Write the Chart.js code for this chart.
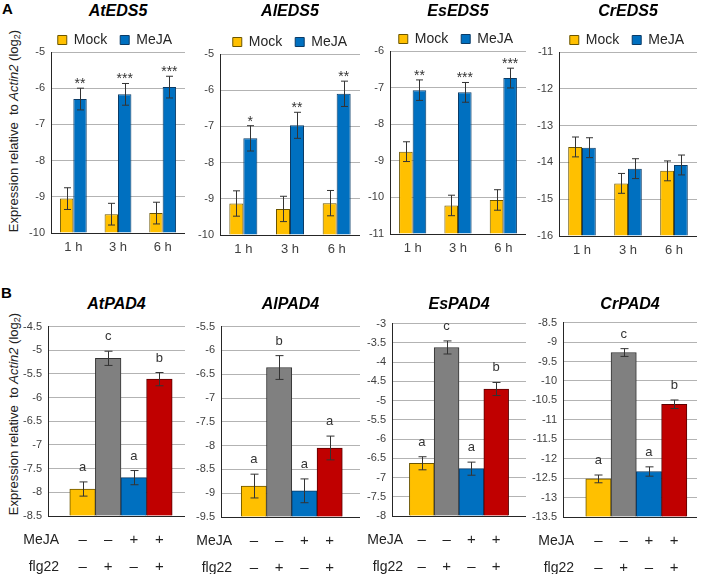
<!DOCTYPE html>
<html>
<head>
<meta charset="utf-8">
<script src="https://cdn.jsdelivr.net/npm/chart.js@4.4.0/dist/chart.umd.min.js"></script>
<style>
html,body{margin:0;padding:0;background:#fff;overflow:hidden;}
body{width:709px;height:574px;position:relative;font-family:"Liberation Sans",Arial,sans-serif;}
.cv{position:absolute;}
.ttl{position:absolute;font-weight:bold;font-style:italic;font-size:16px;line-height:18px;color:#000;transform:translateX(-50%);white-space:nowrap;}
.tag{position:absolute;font-weight:bold;font-size:15px;line-height:16px;color:#000;}
.ylab{position:absolute;font-size:13px;line-height:15px;color:#222;white-space:nowrap;transform:translate(-50%,-50%) rotate(-90deg);}
.ylab sub{font-size:9px;vertical-align:-2px;line-height:0;}
</style>
</head>
<body>
<div class="tag" style="left:2px;top:1px;">A</div>
<div class="tag" style="left:1px;top:285px;">B</div>
<div class="ylab" style="left:13px;top:131px;">Expression relative&nbsp; to <i>Actin2</i> (log<sub>2</sub>)</div>
<div class="ylab" style="left:13px;top:414px;">Expression relative&nbsp; to <i>Actin2</i> (log<sub>2</sub>)</div>

<script>
/* ---------- data ---------- */
var timeLabels = ['1 h', '3 h', '6 h'];
var edsTitles = ['AtEDS5', 'AlEDS5', 'EsEDS5', 'CrEDS5'];
var edsMock    = [[-9.05, -9.48, -9.45], [-9.13, -9.28, -9.12], [-8.75, -10.22, -10.07], [-13.58, -14.57, -14.23]];
var edsMockErr = [[0.3, 0.3, 0.3], [0.35, 0.35, 0.35], [0.27, 0.28, 0.28], [0.27, 0.27, 0.27]];
var edsMeja    = [[-6.3, -6.17, -5.97], [-7.33, -6.97, -6.1], [-7.07, -7.13, -6.74], [-13.6, -14.17, -14.07]];
var edsMejaErr = [[0.3, 0.3, 0.3], [0.35, 0.36, 0.35], [0.28, 0.27, 0.27], [0.27, 0.27, 0.27]];
var edsStars   = [['**', '***', '***'], ['*', '**', '**'], ['**', '***', '***'], ['', '', '']];
var edsRange   = [[-10, -5], [-10, -5], [-11, -6], [-16, -11]];

var padTitles  = ['AtPAD4', 'AlPAD4', 'EsPAD4', 'CrPAD4'];
var rowNames   = ['MeJA', 'flg22'];
var mejaSigns  = ['\u2013', '\u2013', '+', '+'];
var flgSigns   = ['\u2013', '+', '\u2013', '+'];
var padValues  = [[-7.93, -5.17, -7.69, -5.61], [-8.85, -6.36, -8.95, -8.05], [-6.63, -3.62, -6.77, -4.7], [-12.52, -9.27, -12.33, -10.6]];
var padErr     = [[0.15, 0.15, 0.15, 0.14], [0.25, 0.25, 0.25, 0.25], [0.17, 0.17, 0.17, 0.17], [0.1, 0.1, 0.12, 0.11]];
var padLetters = [['a', 'c', 'a', 'b'], ['a', 'b', 'a', 'a'], ['a', 'c', 'a', 'b'], ['a', 'c', 'a', 'b']];
var padRange   = [[-8.5, -4.5], [-9.5, -5.5], [-8, -3], [-13.5, -8.5]];

/* ---------- layout: plot areas [left, top, right, bottom] ---------- */
var edsBoxes = [[51, 52, 185, 233], [220, 54, 360, 235], [390, 51, 526, 234], [559, 52, 697, 236]];
var padBoxes = [[48, 324, 185, 516], [221, 324, 360, 517], [392, 321, 526, 516], [563, 320, 697, 517]];
var padSide  = [[0.85, 0.5], [0.8, 0.7], [0.7, 0.7], [0.9, 0.4]];

var FONT = '"Liberation Sans", Arial, sans-serif';
var AXIS_W = 40, LEG_H = 32, EDS_XH = 35, PAD_XH = 68, PAD_TOP = 10;
var padColors  = ['#FFC000', '#808080', '#0070C0', '#C00000'];
var padBorders = ['#6b5500', '#333333', '#0b3b66', '#5c0000'];

/* ---------- plugins ---------- */
var errPlugin = {
  id: 'errBars',
  afterDatasetsDraw: function(chart, args, opts){
    var ctx = chart.ctx, y = chart.scales.y;
    ctx.save();
    chart.data.datasets.forEach(function(ds, di){
      var meta = chart.getDatasetMeta(di);
      var errs = opts.errs[di], marks = opts.marks[di];
      meta.data.forEach(function(bar, i){
        var v = ds.data[i];
        if(typeof v === 'object') v = v.y;
        var top = y.getPixelForValue(v + errs[i]), bot = y.getPixelForValue(v - errs[i]);
        var x = Math.round(bar.x) + 0.5, c = opts.cap / 2;
        ctx.strokeStyle = '#333'; ctx.lineWidth = 1;
        ctx.beginPath();
        ctx.moveTo(x, top); ctx.lineTo(x, bot);
        ctx.moveTo(x - c, top); ctx.lineTo(x + c, top);
        ctx.moveTo(x - c, bot); ctx.lineTo(x + c, bot);
        ctx.stroke();
        if(marks && marks[i]){
          ctx.fillStyle = '#333';
          ctx.font = opts.font;
          ctx.textAlign = 'center';
          ctx.textBaseline = 'alphabetic';
          ctx.fillText(marks[i], bar.x, top - opts.gap);
        }
      });
    });
    ctx.restore();
  }
};

var legendHeight = {
  id: 'legendHeight',
  beforeUpdate: function(chart){
    var lg = chart.legend;
    if(!lg || lg._fixed) return;
    var fit = lg.fit;
    lg.fit = function(){ fit.call(this); this.height = LEG_H; };
    lg._fixed = true;
  }
};

var rowPlugin = {
  id: 'rowNames',
  afterDraw: function(chart, args, opts){
    var xs = chart.scales.x, ctx = chart.ctx;
    var y0 = xs.top + opts.pad + opts.lineH / 2;
    ctx.save();
    ctx.font = opts.font;
    ctx.fillStyle = '#222';
    ctx.textAlign = 'right';
    ctx.textBaseline = 'middle';
    rowNames.forEach(function(n, k){ ctx.fillText(n, xs.left + opts.dx, y0 + k * opts.lineH); });
    ctx.restore();
  }
};

function makeCanvas(left, top, w, h){
  var c = document.createElement('canvas');
  c.className = 'cv';
  c.width = w; c.height = h;
  c.style.left = left + 'px'; c.style.top = top + 'px';
  c.style.width = w + 'px'; c.style.height = h + 'px';
  document.body.appendChild(c);
  return c;
}

function addTitle(text, cx, top){
  var d = document.createElement('div');
  d.className = 'ttl';
  d.textContent = text;
  d.style.left = cx + 'px'; d.style.top = top + 'px';
  document.body.appendChild(d);
}

function yAxis(r, step){
  return {
    min: r[0], max: r[1],
    border: {color: '#262626', width: 1},
    grid: {drawTicks: false, color: function(c){ return c.tick && c.tick.value === r[0] ? 'rgba(0,0,0,0)' : '#b3b3b3'; }},
    ticks: {
      stepSize: step, padding: 6, color: '#404040', font: {size: 11, family: FONT},
      callback: function(v){ return String(Math.round(v * 10) / 10); }
    },
    afterFit: function(s){ s.width = AXIS_W; }
  };
}

/* ---------- panel A ---------- */
edsTitles.forEach(function(t, k){
  var b = edsBoxes[k], r = edsRange[k];
  var left = b[0] - AXIS_W, top = b[1] - LEG_H;
  var cv = makeCanvas(left, top, b[2] - left, b[3] + EDS_XH - top);
  addTitle(t, (b[0] + b[2]) / 2, 2);
  new Chart(cv, {
    type: 'bar',
    data: {
      labels: timeLabels,
      datasets: [
        {label: 'Mock', data: edsMock[k], backgroundColor: '#FFC000', borderColor: '#6b5500', borderWidth: 1, base: r[0]},
        {label: 'MeJA', data: edsMeja[k], backgroundColor: '#0070C0', borderColor: '#0b3b66', borderWidth: 1, base: r[0]}
      ]
    },
    options: {
      responsive: false, animation: false,
      layout: {padding: 0},
      datasets: {bar: {categoryPercentage: 0.6, barPercentage: 1}},
      plugins: {
        legend: {align: 'end', labels: {boxWidth: 9, boxHeight: 9, padding: 13, color: '#262626', font: {size: 14, family: FONT}}},
        tooltip: {enabled: false},
        errBars: {errs: [edsMockErr[k], edsMejaErr[k]], marks: [null, edsStars[k]], cap: 7, gap: 0, font: '14px ' + FONT}
      },
      scales: {
        x: {
          grid: {display: false, drawTicks: false},
          border: {color: '#262626'},
          ticks: {padding: 7, color: '#404040', font: {size: 13, family: FONT}},
          afterFit: function(s){ s.height = EDS_XH; }
        },
        y: yAxis(r, 1)
      }
    },
    plugins: [errPlugin, legendHeight]
  });
});

/* ---------- panel B ---------- */
padTitles.forEach(function(t, k){
  var b = padBoxes[k], r = padRange[k];
  var left = b[0] - AXIS_W, top = b[1] - PAD_TOP;
  var cv = makeCanvas(left, top, b[2] - left, b[3] + PAD_XH - top);
  addTitle(t, (b[0] + b[2]) / 2, 295);
  new Chart(cv, {
    type: 'bar',
    data: {
      datasets: [{
        data: padValues[k].map(function(v, i){ return {x: i + 1, y: v}; }),
        backgroundColor: padColors, borderColor: padBorders, borderWidth: 1,
        base: r[0], barPercentage: 1, categoryPercentage: 1
      }]
    },
    options: {
      responsive: false, animation: false,
      layout: {padding: {top: PAD_TOP}},
      plugins: {
        legend: {display: false},
        tooltip: {enabled: false},
        errBars: {errs: [padErr[k]], marks: [padLetters[k]], cap: 8, gap: 11, font: '13px ' + FONT},
        rowNames: {pad: 10.5, lineH: 27, dx: 11, font: '14px ' + FONT}
      },
      scales: {
        x: {
          type: 'linear', offset: false,
          min: 0.5 - padSide[k][0], max: 4.5 + padSide[k][1],
          grid: {display: false, drawTicks: false},
          border: {color: '#262626'},
          afterBuildTicks: function(s){ s.ticks = mejaSigns.map(function(_, i){ return {value: i + 1}; }); },
          ticks: {
            autoSkip: false, maxRotation: 0, padding: 10.5, color: '#222',
            font: {size: 15, family: FONT, lineHeight: '27px'},
            callback: function(v, i){ return [mejaSigns[i], flgSigns[i]]; }
          },
          afterFit: function(s){ s.height = PAD_XH; }
        },
        y: yAxis(r, 0.5)
      }
    },
    plugins: [errPlugin, rowPlugin]
  });
});
</script>
</body>
</html>
